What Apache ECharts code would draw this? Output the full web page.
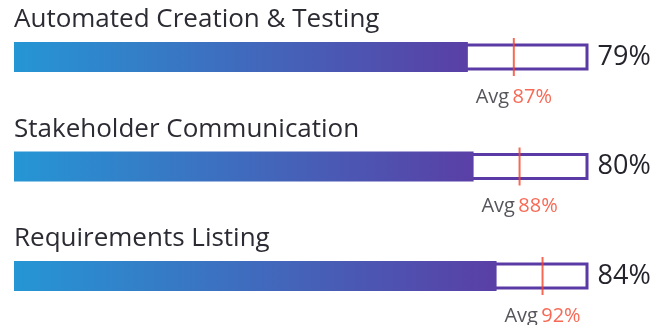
<!DOCTYPE html>
<html>
<head>
<meta charset="utf-8">
<script src="https://cdn.jsdelivr.net/npm/echarts@6/dist/echarts.min.js"></script>
<style>
  html, body { margin: 0; padding: 0; background: #fff; }
  #chart { width: 671px; height: 325px; }
</style>
</head>
<body>
<div id="chart"></div>
<script>
const categories = ['Automated Creation & Testing', 'Stakeholder Communication', 'Requirements Listing'];
const scores = [79, 80, 84];
const averages = [87, 88, 92];
const fullScale = [100, 100, 100];

const chart = echarts.init(document.getElementById('chart'));
const font = 'Open Sans';
const red = '#f5442a';

const option = {
    animation: false,
    grid: { left: 14, right: 82.5, top: 57, height: 219 },
    xAxis: { type: 'value', min: 0, max: 100, show: false },
    yAxis: [
        { type: 'category', data: categories, inverse: true, boundaryGap: false, show: false },
        { type: 'category', data: categories, inverse: true, boundaryGap: false, show: false }
    ],
    series: [
        {
            // outline track 0-100
            type: 'bar',
            yAxisIndex: 0,
            barWidth: 27,
            data: fullScale,
            itemStyle: { color: '#fff', borderColor: '#5a3ba6', borderWidth: 3 },
            label: {
                show: true,
                position: 'right',
                distance: 9,
                fontFamily: font,
                fontSize: 27,
                color: '#24242c',
                formatter: p => scores[p.dataIndex] + '%'
            },
            z: 1
        },
        {
            type: 'bar',
            yAxisIndex: 1,
            barWidth: 30,
            data: scores,
            itemStyle: {
                color: {
                    type: 'linear', x: 0, y: 0, x2: 1, y2: 0,
                    colorStops: [
                        { offset: 0, color: '#2596d4' },
                        { offset: 1, color: '#5a3fa6' }
                    ]
                }
            },
            label: {
                show: true,
                position: [0, -22],
                align: 'left',
                verticalAlign: 'middle',
                fontFamily: font,
                fontSize: 26,
                color: '#2b2b33',
                formatter: p => p.name
            },
            z: 2
        },
        {
            type: 'scatter',
            yAxisIndex: 0,
            symbol: 'rect',
            symbolSize: [2, 38],
            data: averages.map((v, i) => [v, i]),
            itemStyle: { color: red },
            label: {
                show: true,
                position: 'bottom',
                distance: 11,
                formatter: p => '{a|Avg} {b|' + p.value[0] + '%}',
                rich: {
                    a: { fontFamily: font, fontSize: 20, color: '#2b2b33' },
                    b: { fontFamily: font, fontSize: 20, color: red }
                }
            },
            z: 3
        }
    ]
};

chart.setOption(option);
</script>
</body>
</html>
